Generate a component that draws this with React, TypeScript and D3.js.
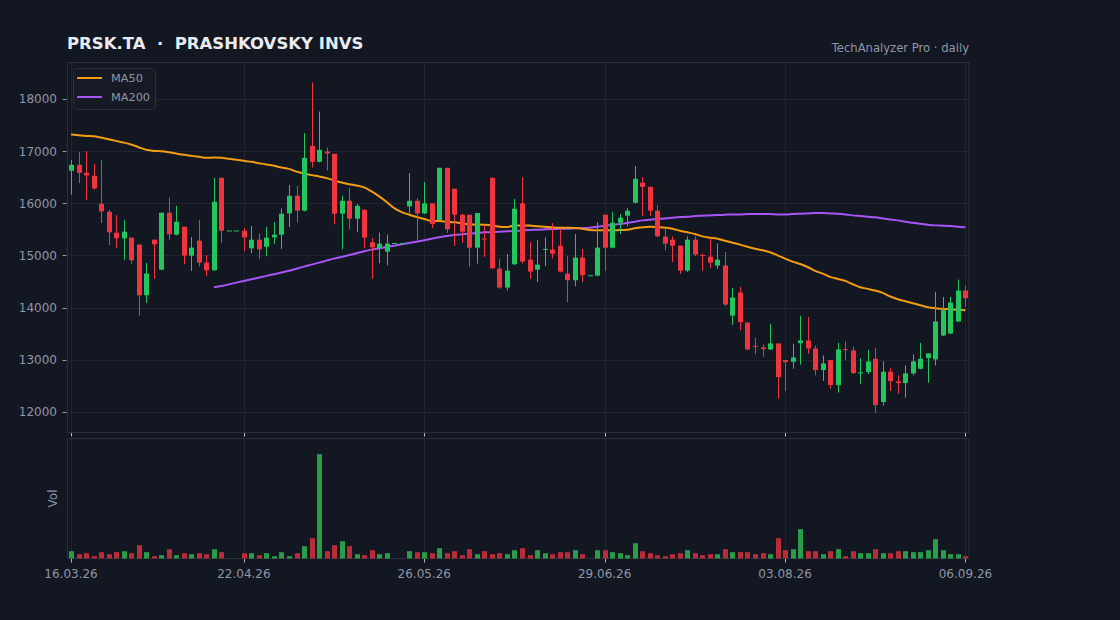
import React from "react";
import * as d3 from "d3";

const opens = [16626,16741,16588,16530,15994,15840,15438,15329,15342,15208,14236,15303,14728,15821,15399,15553,14997,15284,14862,14715,16492,15480,15480,15476,15137,15303,15169,15348,15399,15808,16147,15859,17105,16799,16997,16952,15802,16051,15706,15879,15252,15137,15073,15240,15240,15942,16051,15808,16000,15680,16684,16281,15783,15783,15150,15325,16492,14747,14383,14831,16000,14920,14728,15110,15112,15188,14652,14524,14958,14620,14613,15783,15150,15629,15763,16013,16396,16319,15859,15361,15303,15188,14709,15303,15010,14978,14805,14805,13846,14287,13712,13265,13233,13195,13310,12990,12958,13316,13367,13214,12798,12990,12511,13201,13176,12741,12760,13016,12185,12767,12581,12549,12735,12824,13029,13003,13463,13501,13731,14326];
const highs = [16837,16984,17003,16754,16837,15878,15776,15680,15342,15208,14856,15303,15821,16109,15955,15553,15354,15680,15009,16492,16492,15480,15480,15527,15565,15418,15546,15642,15904,16351,16332,17348,18326,17764,17073,16952,16147,16294,15987,15879,15335,15438,15399,15240,15240,16581,16102,16409,16000,16684,16684,16281,15802,15783,15815,15578,16492,14933,15029,16083,16505,15259,15297,15348,15623,15514,14984,15412,15124,14620,15636,15783,15834,15796,15910,16716,16505,16319,15968,15527,15367,15188,15367,15367,15035,15329,15227,15067,14377,14396,13712,13418,13284,13687,13310,12990,13303,13840,13821,13271,13080,12990,13322,13354,13246,13022,13188,13227,12965,12843,12696,12888,13099,13322,13118,14300,14204,14204,14537,14416];
const lows = [16166,16390,16070,16262,15623,15201,15144,14914,14837,13846,14089,14549,14715,15303,15386,14837,14703,14792,14600,14703,15240,15480,15480,15080,15041,14933,14984,15227,15124,15546,15636,15847,16690,16786,16632,15597,15118,15502,15444,15137,14549,14850,14811,15240,15240,15815,15291,15796,15527,15668,15431,15182,15240,14779,14843,14971,14741,14358,14326,14818,14843,14549,14486,14792,14946,14677,14102,14409,14492,14620,14600,14703,15137,15412,15565,16000,15757,15757,15354,15099,14875,14645,14684,14984,14703,14754,14741,14025,13667,13565,13182,13105,13054,13182,12249,12396,12824,12901,13112,12696,12588,12441,12364,12990,12722,12536,12722,11980,12115,12396,12345,12268,12696,12811,12556,12888,13450,13489,13719,14013];
const closes = [16741,16588,16537,16287,15847,15444,15329,15457,14907,14236,14652,15214,15821,15406,15648,14997,15150,14862,14715,16032,15476,15480,15480,15348,15303,15118,15342,15399,15802,16147,15859,16875,16799,17029,16958,15802,16051,15706,15955,15342,15156,15227,15227,15240,15240,16051,15808,16000,15604,16684,15502,15783,15457,15150,15815,15310,14754,14383,14709,15898,14882,14690,14824,15125,15035,14690,14524,14958,14620,14620,15150,15150,15629,15725,15859,16473,16319,15859,15367,15227,15188,14709,15303,15016,14997,14862,14920,14057,14192,13719,13195,13258,13201,13310,12664,12952,13041,13367,13214,12798,12926,12511,13195,13182,12741,12754,12965,12127,12767,12588,12549,12735,12965,13016,13118,13731,13949,14096,14326,14179];
const volumes = [73,43,53,23,63,43,63,73,53,133,63,23,33,93,33,53,43,53,43,93,63,0,0,53,53,33,53,23,63,23,53,123,203,1043,73,133,173,123,43,33,83,43,53,0,0,73,63,63,53,103,53,73,33,93,43,73,43,53,43,83,103,33,83,53,43,63,63,83,43,0,83,83,63,53,33,153,73,53,33,23,43,53,83,53,33,43,43,93,63,63,63,43,53,43,203,83,93,293,73,73,43,73,93,23,73,53,53,93,53,53,73,73,63,63,83,193,83,43,43,23];
const ma50 = [17323,17310,17297,17291,17265,17233,17201,17169,17131,17080,17029,17009,17003,16984,16958,16933,16914,16895,16875,16882,16875,16856,16837,16818,16799,16773,16748,16722,16690,16664,16610,16575,16543,16517,16486,16441,16403,16370,16345,16307,16230,16134,16026,15910,15834,15783,15738,15700,15661,15661,15648,15636,15617,15597,15597,15591,15578,15553,15546,15578,15578,15578,15559,15553,15540,15533,15533,15527,15514,15489,15483,15483,15483,15489,15495,15521,15540,15553,15546,15533,15514,15476,15444,15412,15367,15342,15323,15284,15246,15208,15166,15130,15099,15061,15003,14939,14882,14837,14779,14703,14652,14588,14549,14511,14447,14390,14358,14326,14281,14211,14160,14121,14083,14045,14006,13987,13974,13968,13955,13949];
const ma200 = [null,null,null,null,null,null,null,null,null,null,null,null,null,null,null,null,null,null,null,14390,14415,14445,14478,14510,14542,14575,14608,14640,14672,14705,14745,14786,14824,14862,14901,14939,14971,15009,15041,15080,15112,15137,15163,15188,15214,15240,15265,15291,15323,15348,15374,15393,15406,15418,15431,15444,15450,15457,15463,15470,15479,15489,15495,15502,15508,15514,15514,15521,15527,15533,15553,15572,15585,15604,15623,15648,15674,15687,15700,15712,15725,15738,15744,15757,15763,15770,15776,15783,15789,15789,15796,15796,15796,15796,15789,15789,15796,15802,15808,15815,15815,15808,15802,15789,15770,15757,15744,15732,15712,15693,15674,15648,15629,15610,15591,15578,15572,15565,15553,15540];
const dateTickIndex = [0, 23, 47, 71, 95, 119];
const dateTickLabels = ["16.03.26", "22.04.26", "26.05.26", "29.06.26", "03.08.26", "06.09.26"];
const priceTicks = [12000, 13000, 14000, 15000, 16000, 17000, 18000];
const seriesNames = ["MA50", "MA200"];
const seriesColors = ["#f39c12", "#a855f7"];

const BG = "#131722";
const GRID = "#212532";
const BORDER = "#2a2f3c";
const TXT = "#8f96a6";
const UP = "#22c55e";
const DOWN = "#f0353f";
const VUP = "#2a9d48";
const VDOWN = "#b82d38";
const FONT = "DejaVu Sans, sans-serif";

const PL = 67.5, PR = 969;
const PT = 62.5, PB = 432.5;
const VT = 438.5, VB = 558.5;

export default function App() {
  const n = closes.length;
  const x = d3.scaleLinear().domain([-0.47, n - 1 + 0.47]).range([PL, PR]);
  const lo = d3.min(lows) as number;
  const hi = d3.max(highs) as number;
  const pad = (hi - lo) * 0.06;
  const y = d3.scaleLinear().domain([lo - pad, hi + pad]).range([PB, PT]);
  const vmax = d3.max(volumes) as number;
  const vy = d3.scaleLinear().domain([0, vmax * 1.15]).range([VB, VT]);
  const bw = 5;

  const mkLine = d3
    .line<number | null>()
    .defined((d) => d != null)
    .x((_, i) => x(i))
    .y((d) => y(d as number))
    .curve(d3.curveMonotoneX);

  return (
    <div style={{ position: "fixed", left: 0, top: 0, width: 1120, height: 620, background: BG }}>
      <svg width={1120} height={620} style={{ display: "block" }} fontFamily={FONT}>
        <rect x={0} y={0} width={1120} height={620} fill={BG} />
        {/* title */}
        <text x={67} y={48.5} fill="#e8ebf1" fontSize={16.5} fontWeight="bold" style={{ whiteSpace: "pre" }}>
          {"PRSK.TA  \u00b7  PRASHKOVSKY INVS"}
        </text>
        <text x={969} y={51.5} fill={TXT} fontSize={11.6} textAnchor="end">
          TechAnalyzer Pro · daily
        </text>

        {/* price grid */}
        {priceTicks.map((t) => (
          <g key={t}>
            <line x1={PL} x2={PR} y1={Math.round(y(t)) + 0.5} y2={Math.round(y(t)) + 0.5} stroke={GRID} />
            <line x1={62.5} x2={66.5} y1={Math.round(y(t)) + 0.5} y2={Math.round(y(t)) + 0.5} stroke={TXT} />
            <text x={57} y={y(t)} dy="0.35em" fill={TXT} fontSize={12} textAnchor="end">
              {t}
            </text>
          </g>
        ))}
        {dateTickIndex.map((ti, k) => {
          const xx = Math.round(x(ti)) + 0.5;
          return (
            <g key={k}>
              <line x1={xx} x2={xx} y1={PT} y2={PB} stroke={GRID} />
              <line x1={xx} x2={xx} y1={VT} y2={VB} stroke={GRID} />
              <line x1={xx} x2={xx} y1={PB} y2={PB + 4} stroke="#b5bac6" />
              <line x1={xx} x2={xx} y1={VB} y2={VB + 4} stroke="#b5bac6" />
              <text x={x(ti)} y={578} fill={TXT} fontSize={12} textAnchor="middle">
                {dateTickLabels[k]}
              </text>
            </g>
          );
        })}
        <rect x={PL} y={PT} width={PR - PL} height={PB - PT} fill="none" stroke={BORDER} />
        <rect x={PL} y={VT} width={PR - PL} height={VB - VT} fill="none" stroke={BORDER} />

        {/* MA lines */}
        <path d={mkLine(ma200) || ""} fill="none" stroke={seriesColors[1]} strokeWidth={2} />
        <path d={mkLine(ma50) || ""} fill="none" stroke={seriesColors[0]} strokeWidth={2} />

        {/* candles */}
        {closes.map((c, i) => {
          const o = opens[i];
          const up = c >= o;
          const col = up ? UP : DOWN;
          const cx = Math.round(x(i)) + 0.5;
          const top = y(Math.max(o, c));
          const bot = y(Math.min(o, c));
          return (
            <g key={i}>
              <line x1={cx} x2={cx} y1={y(highs[i])} y2={y(lows[i])} stroke={col} strokeWidth={1} />
              <rect x={cx - bw / 2} y={top} width={bw} height={Math.max(1, bot - top)} fill={col} />
            </g>
          );
        })}

        {/* volume */}
        {volumes.map((v, i) => {
          const up = closes[i] >= opens[i];
          const cx = Math.round(x(i)) + 0.5;
          return v > 0 ? (
            <rect key={i} x={cx - bw / 2} y={vy(v)} width={bw} height={VB - vy(v)} fill={up ? VUP : VDOWN} />
          ) : null;
        })}
        <text transform={`translate(57,${(VT + VB) / 2}) rotate(-90)`} fill={TXT} fontSize={12} textAnchor="middle">
          Vol
        </text>

        {/* legend */}
        <rect x={73.5} y={68.5} width={82} height={41} rx={3} fill="#161a25" stroke={BORDER} />
        {seriesNames.map((s, k) => (
          <g key={s}>
            <line x1={77} x2={102} y1={78 + k * 19} y2={78 + k * 19} stroke={seriesColors[k]} strokeWidth={2} />
            <text x={111} y={78 + k * 19} dy="0.35em" fill={TXT} fontSize={11.3}>
              {s}
            </text>
          </g>
        ))}
      </svg>
    </div>
  );
}
